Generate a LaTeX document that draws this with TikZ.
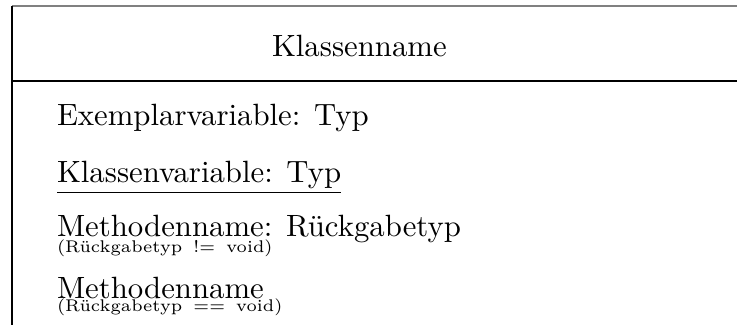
\documentclass[tikz,border=0pt]{standalone}
\begin{document}
\begin{tikzpicture}[x=0.325pt,y=-0.325pt,
  lbl/.style={inner sep=0pt,outer sep=0pt,anchor=base west,font=\normalsize},
  sub/.style={inner sep=0pt,outer sep=0pt,anchor=base west,font=\fontsize{5.5pt}{6.5pt}\selectfont},
  frame/.style={line width=0.4pt,draw=black},
  topframe/.style={line width=0.6pt,draw=black!50}]
\useasboundingbox (0,0) rectangle (737,325);
% frame
\coordinate (tl) at (12,6);
\coordinate (tr) at (737,6);
\coordinate (ml) at (12,81);
\coordinate (mr) at (737,81);
\coordinate (bl) at (12,325);
\draw[topframe] (tl) -- (tr);
\draw[frame] (tl) -- (bl);
\draw[frame] (ml) -- (mr);
% texts
\node[lbl] (name) at (272,56) {Klassenname};
\node[lbl] (ev) at (57,125) {Exemplarvariable: Typ};
\node[lbl] (kv) at (57,182) {\underline{Klassenvariable: Typ}};
\node[lbl] (m1) at (57,236) {Methodenname: Rückgabetyp};
\node[sub] (m1s) at (57,252) {(Rückgabetyp\hspace{3.6pt}!=\hspace{3.6pt}void)};
\node[lbl] (m2) at (57,298) {Methodenname};
\node[sub] (m2s) at (57,311) {(Rückgabetyp\hspace{3.6pt}==\hspace{3.6pt}void)};
\end{tikzpicture}
\end{document}
